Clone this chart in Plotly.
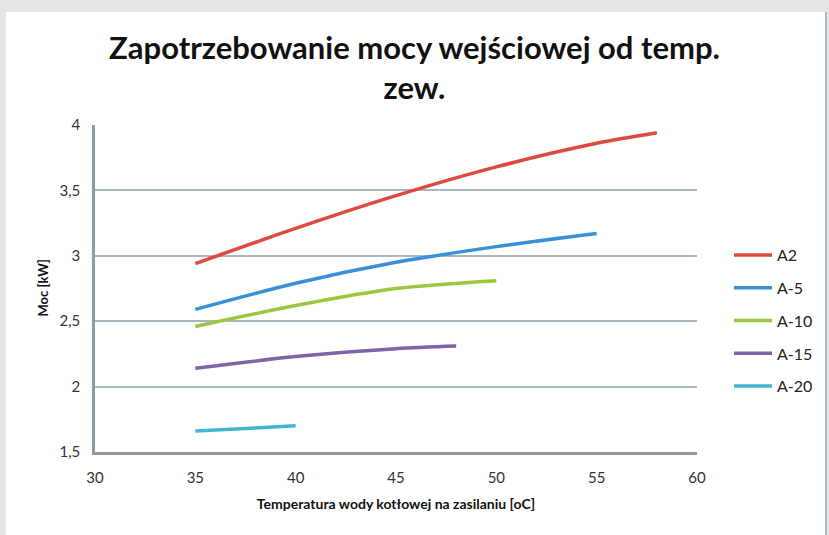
import plotly.graph_objects as go

series_names = ["A2", "A-5", "A-10", "A-15", "A-20"]
x_A2 = [35, 40, 45, 50, 55, 58]
y_A2 = [2.94, 3.21, 3.46, 3.68, 3.86, 3.94]
x_A5 = [35, 40, 45, 50, 55]
y_A5 = [2.59, 2.79, 2.95, 3.07, 3.17]
x_A10 = [35, 40, 45, 50]
y_A10 = [2.46, 2.62, 2.75, 2.81]
x_A15 = [35, 40, 45, 48]
y_A15 = [2.14, 2.23, 2.29, 2.31]
x_A20 = [35, 40]
y_A20 = [1.66, 1.70]
colors = ["#de4a3f", "#3a8fd6", "#9cc63e", "#8064a8", "#45b4d2"]

xs = [x_A2, x_A5, x_A10, x_A15, x_A20]
ys = [y_A2, y_A5, y_A10, y_A15, y_A20]

fig = go.Figure()
for name, x, y, c in zip(series_names, xs, ys, colors):
    fig.add_trace(go.Scatter(x=x, y=y, name=name, mode="lines", legendgroup=name,
                             line=dict(color=c, width=3.5, shape="spline", smoothing=0.8)))

font_family = "Lato, 'Open Sans', sans-serif"
PW, PH = 602, 327
fig.update_layout(
    width=829, height=535,
    paper_bgcolor="#e4e5e7",
    plot_bgcolor="white",
    margin=dict(l=95, r=132, t=125, b=83, autoexpand=False),
    title=dict(text="<b>Zapotrzebowanie mocy wejściowej od temp.<br>zew.</b>",
               x=0.5, xanchor="center", y=0.89, yanchor="middle",
               font=dict(family=font_family, size=31, color="#111")),
    font=dict(family=font_family, color="#333"),
    showlegend=True,
    legend=dict(x=1 + 32 / PW, y=1 - 113 / PH, xanchor="left", yanchor="top",
                bgcolor="rgba(0,0,0,0)", font=dict(size=16, color="#222"),
                tracegroupgap=9, itemwidth=38),
    shapes=[dict(type="rect", xref="paper", yref="paper",
                 x0=-89 / PW, x1=1 + 128 / PW, y0=-90 / PH, y1=1 + 113 / PH,
                 fillcolor="white", line=dict(width=0), layer="below"),
            dict(type="line", xref="paper", yref="paper",
                 x0=1 + 129 / PW, x1=1 + 129 / PW, y0=-90 / PH, y1=1 + 113 / PH,
                 line=dict(color="#a9bcc8", width=2), layer="below")],
    annotations=[dict(text="<b>Moc [kW]</b>", xref="paper", yref="paper",
                      x=-53 / PW, y=0.5, textangle=-90, showarrow=False,
                      xanchor="center", yanchor="middle",
                      font=dict(size=13, color="#111", family=font_family))],
)
fig.update_xaxes(range=[30, 60], dtick=5, showgrid=False,
                 showline=True, linecolor="#8d9ba3", linewidth=2.5,
                 ticks="", tickfont=dict(size=15, color="#333"), ticklabelstandoff=10,
                 title=dict(text="<b>Temperatura wody kotłowej na zasilaniu [oC]</b>",
                            font=dict(size=14, color="#111"), standoff=15))
fig.update_yaxes(range=[1.5, 4], dtick=0.5, showgrid=True, gridcolor="#a9b8c0", gridwidth=1.5,
                 showline=True, linecolor="#8d9ba3", linewidth=2.5, zeroline=False,
                 ticks="", tickfont=dict(size=15, color="#333"), ticklabelstandoff=9,
                 tickformat=",.1~f")
fig.update_layout(separators=", ")
fig.write_html("out.html", config={"displayModeBar": False},
               post_script="document.body.style.margin='0';")
